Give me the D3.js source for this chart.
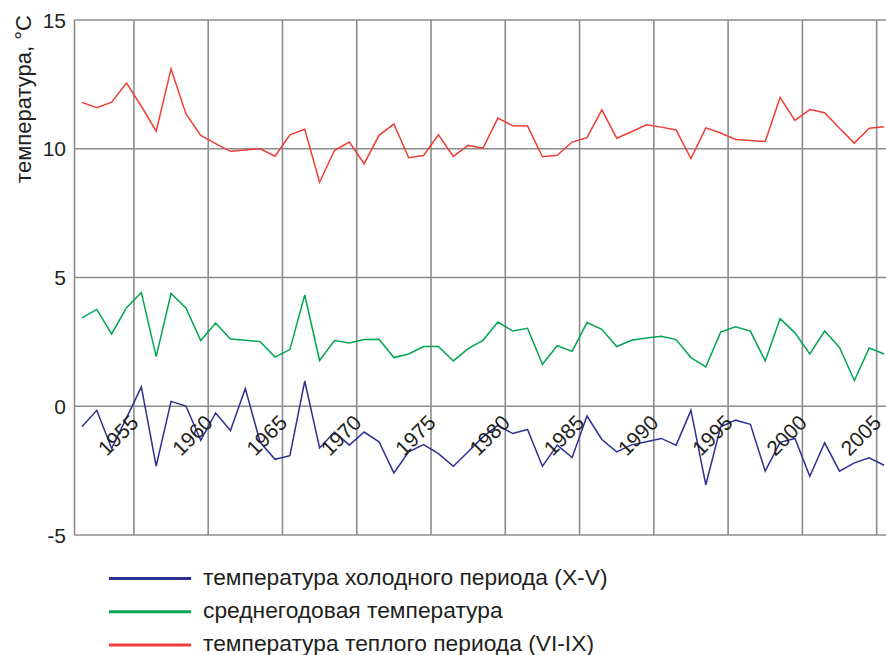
<!DOCTYPE html>
<html>
<head>
<meta charset="utf-8">
<script src="https://cdn.jsdelivr.net/npm/d3@7/dist/d3.min.js"></script>
<style>
  body { margin: 0; background: #fff; }
  text { font-family: "Liberation Sans", Arial, sans-serif; fill: #231f20; }
</style>
</head>
<body>
<div id="chart"></div>
<script>
var years = d3.range(1951, 2006);

// температура холодного периода (X-V)
var coldTemp = [-0.80, -0.16, -1.64, -0.45, 0.75, -2.32, 0.19, 0.01, -1.32, -0.26,
                -0.94, 0.69, -1.40, -2.06, -1.92, 0.98, -1.62, -1.00, -1.51, -1.00,
                -1.38, -2.59, -1.77, -1.49, -1.84, -2.33, -1.77, -1.19, -0.74, -1.06,
                -0.90, -2.33, -1.51, -1.99, -0.38, -1.29, -1.77, -1.50, -1.38, -1.25,
                -1.51, -0.16, -3.05, -0.80, -0.54, -0.70, -2.52, -1.40, -1.25, -2.72,
                -1.42, -2.52, -2.20, -2.00, -2.29];

// среднегодовая температура
var meanTemp = [3.43, 3.76, 2.81, 3.83, 4.42, 1.93, 4.38, 3.82, 2.55, 3.23,
                2.61, 2.56, 2.51, 1.91, 2.20, 4.32, 1.78, 2.55, 2.46, 2.59,
                2.60, 1.89, 2.03, 2.32, 2.32, 1.76, 2.24, 2.56, 3.27, 2.92,
                3.03, 1.63, 2.35, 2.13, 3.25, 2.99, 2.32, 2.56, 2.65, 2.72,
                2.59, 1.89, 1.53, 2.88, 3.09, 2.92, 1.76, 3.40, 2.85, 2.03,
                2.92, 2.28, 1.00, 2.26, 2.03];

// температура теплого периода (VI-IX)
var warmTemp = [11.80, 11.59, 11.81, 12.55, 11.65, 10.68, 13.10, 11.36, 10.52, 10.20,
                9.90, 9.95, 10.00, 9.71, 10.54, 10.76, 8.70, 9.93, 10.26, 9.42,
                10.52, 10.96, 9.65, 9.74, 10.54, 9.70, 10.13, 10.02, 11.19, 10.89,
                10.88, 9.69, 9.75, 10.26, 10.43, 11.51, 10.41, 10.66, 10.93, 10.84,
                10.73, 9.62, 10.81, 10.61, 10.36, 10.32, 10.28, 11.99, 11.10, 11.52,
                11.40, 10.80, 10.22, 10.80, 10.85];

var yTicks = [-5, 0, 5, 10, 15];
var yearTicks = [1955, 1960, 1965, 1970, 1975, 1980, 1985, 1990, 1995, 2000, 2005];

var seriesNames = ['температура холодного периода (X-V)', 'среднегодовая температура', 'температура теплого периода (VI-IX)'];
var seriesColors = ['#2e3192', '#00a651', '#ef3e36'];
var seriesData = [coldTemp, meanTemp, warmTemp];

var width = 886, height = 655;
var gridColor = '#8c8c8e';

var svg = d3.select('#chart').append('svg')
    .attr('width', width)
    .attr('height', height);

var x = d3.scaleBand()
    .domain(years)
    .range([74.5, 891.5])
    .padding(0);

var y = d3.scaleLinear()
    .domain([-5, 15])
    .range([535, 20]);

var xc = function(yr) { return x(yr) + x.bandwidth() / 2; };

// horizontal grid
svg.append('g').selectAll('line')
    .data(yTicks)
    .enter().append('line')
    .attr('x1', x.range()[0])
    .attr('x2', width)
    .attr('y1', function(d) { return y(d); })
    .attr('y2', function(d) { return y(d); })
    .attr('stroke', gridColor)
    .attr('stroke-width', 1.6);

// vertical grid (between categories)
svg.append('g').selectAll('line')
    .data(yearTicks)
    .enter().append('line')
    .attr('x1', function(d) { return x(d); })
    .attr('x2', function(d) { return x(d); })
    .attr('y1', y(15))
    .attr('y2', y(-5))
    .attr('stroke', gridColor)
    .attr('stroke-width', 1.6);

// left border
svg.append('line')
    .attr('x1', x.range()[0]).attr('x2', x.range()[0])
    .attr('y1', y(15)).attr('y2', y(-5))
    .attr('stroke', gridColor)
    .attr('stroke-width', 1.6);

// y tick labels
svg.append('g').selectAll('text')
    .data(yTicks)
    .enter().append('text')
    .attr('x', 66)
    .attr('y', function(d) { return y(d); })
    .attr('dy', '0.36em')
    .attr('text-anchor', 'end')
    .style('font-size', '21px')
    .text(function(d) { return d; });

// y axis title
svg.append('text')
    .attr('transform', 'translate(31,99) rotate(-90)')
    .attr('text-anchor', 'middle')
    .style('font-size', '22px')
    .text('температура, °C');

// lines
var line = d3.line()
    .x(function(d, i) { return xc(years[i]); })
    .y(function(d) { return y(d); });

svg.append('g').selectAll('path')
    .data(seriesData)
    .enter().append('path')
    .attr('d', line)
    .attr('fill', 'none')
    .attr('stroke', function(d, i) { return seriesColors[i]; })
    .attr('stroke-width', 1.5)
    .attr('stroke-linejoin', 'miter');

// year labels, rotated
svg.append('g').selectAll('text')
    .data(yearTicks)
    .enter().append('text')
    .attr('transform', function(d) { return 'translate(' + (xc(d) - 1.5) + ',424) rotate(-45)'; })
    .attr('text-anchor', 'end')
    .style('font-size', '21px')
    .text(function(d) { return d; });

// legend
var legend = svg.append('g').selectAll('g')
    .data(seriesNames)
    .enter().append('g')
    .attr('transform', function(d, i) { return 'translate(109,' + (578.5 + i * 33.2) + ')'; });

legend.append('line')
    .attr('x1', 0).attr('x2', 82)
    .attr('stroke', function(d, i) { return seriesColors[i]; })
    .attr('stroke-width', 3);

legend.append('text')
    .attr('x', 94)
    .attr('y', 6)
    .style('font-size', '22.8px')
    .text(function(d) { return d; });
</script>
</body>
</html>
